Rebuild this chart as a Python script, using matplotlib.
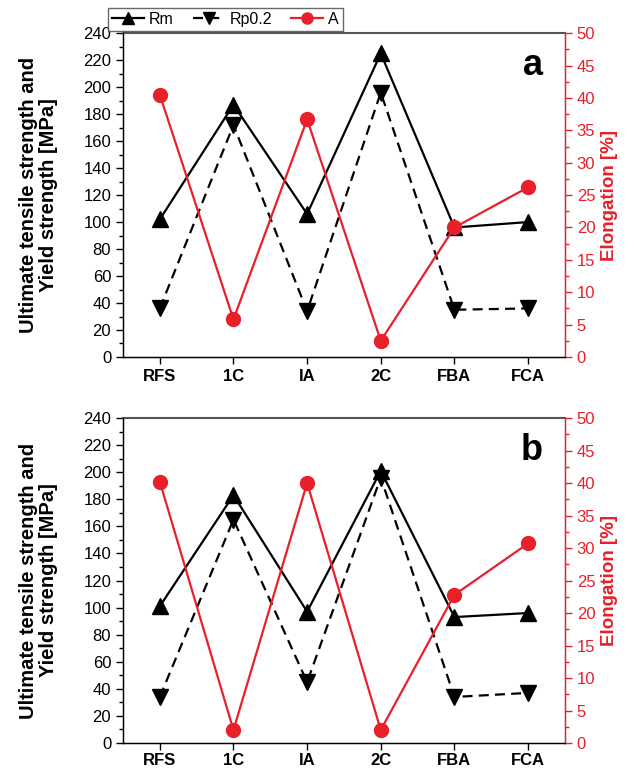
import matplotlib
matplotlib.use("Agg")
import matplotlib.pyplot as plt
from matplotlib.ticker import MultipleLocator

plt.rcParams['font.family'] = ['Liberation Sans', 'DejaVu Sans']

categories = ["RFS", "1C", "IA", "2C", "FBA", "FCA"]

rm_a = [102, 187, 106, 225, 96, 100]
rp_a = [36, 172, 34, 196, 35, 36]
el_a = [40.5, 5.8, 36.7, 2.5, 20.0, 26.2]

rm_b = [101, 183, 97, 201, 93, 96]
rp_b = [34, 165, 45, 196, 34, 37]
el_b = [40.2, 2.0, 40.0, 2.0, 22.8, 30.7]

panels = [("a", rm_a, rp_a, el_a), ("b", rm_b, rp_b, el_b)]

RED = '#e8202a'

fig = plt.figure(figsize=(6.34, 7.69), dpi=100)
rects = [[0.194, 0.5358, 0.697, 0.421], [0.194, 0.0338, 0.697, 0.4226]]

handles = None
for i, (rect, (letter, rm, rp, el)) in enumerate(zip(rects, panels)):
    ax = fig.add_axes(rect)
    x = list(range(len(categories)))
    h1, = ax.plot(x, rm, '-', color='black', lw=1.6, marker='^', ms=11, label='Rm')
    h2, = ax.plot(x, rp, '--', color='black', lw=1.6, marker='v', ms=11, label='Rp0.2',
                  dashes=(4.5, 2.8))
    ax.set_xlim(-0.5, 5.5)
    ax.set_ylim(0, 240)
    ax.yaxis.set_major_locator(MultipleLocator(20))
    ax.yaxis.set_minor_locator(MultipleLocator(10))
    ax.set_xticks(x)
    ax.set_xticklabels(categories, fontweight='bold', fontsize=12)
    ax.tick_params(axis='y', which='major', labelsize=12, length=5, width=1, direction='out')
    ax.tick_params(axis='y', which='minor', length=3, width=1, direction='out')
    ax.tick_params(axis='x', which='major', length=5, width=1, direction='out',
                   pad=4 if i == 0 else 2.5)
    ax.set_ylabel("Ultimate tensile strength and\nYield strength [MPa]",
                  fontweight='bold', fontsize=14.5, labelpad=18, linespacing=1.1)
    ax.spines['top'].set_color('#555555')
    ax.spines['top'].set_linewidth(1.5)
    ax.spines['left'].set_linewidth(1.0)
    ax.spines['bottom'].set_linewidth(1.0)

    ax2 = ax.twinx()
    h3, = ax2.plot(x, el, '-', color=RED, lw=1.6, marker='o', ms=10, label='A')
    ax2.set_ylim(0, 50)
    ax2.yaxis.set_major_locator(MultipleLocator(5))
    ax2.yaxis.set_minor_locator(MultipleLocator(2.5))
    ax2.tick_params(axis='y', which='major', labelsize=12, length=5, width=1,
                    colors=RED, direction='out')
    ax2.tick_params(axis='y', which='minor', length=3, width=1, colors=RED, direction='out')
    ax2.spines['right'].set_color(RED)
    ax2.spines['right'].set_linewidth(1.0)
    ax2.spines['top'].set_visible(False)
    ax2.set_ylabel("Elongation [%]", color=RED, fontweight='bold', fontsize=13.5, labelpad=4)
    ax2.text(0.95, 0.90, letter, transform=ax2.transAxes, fontsize=26,
             fontweight='bold', ha='right', va='center', color='black')
    handles = [h1, h2, h3]

leg = fig.legend(handles, ['Rm', 'Rp0.2', 'A'], loc='center left',
                 bbox_to_anchor=(0.158, 0.975), ncol=3, frameon=True, fancybox=False,
                 edgecolor='#444444', fontsize=11.5, handlelength=2.0,
                 columnspacing=1.2, handletextpad=0.3, borderpad=0.25,
                 markerscale=0.8)
leg.get_frame().set_linewidth(1.0)

fig.savefig("out.png", dpi=100)
